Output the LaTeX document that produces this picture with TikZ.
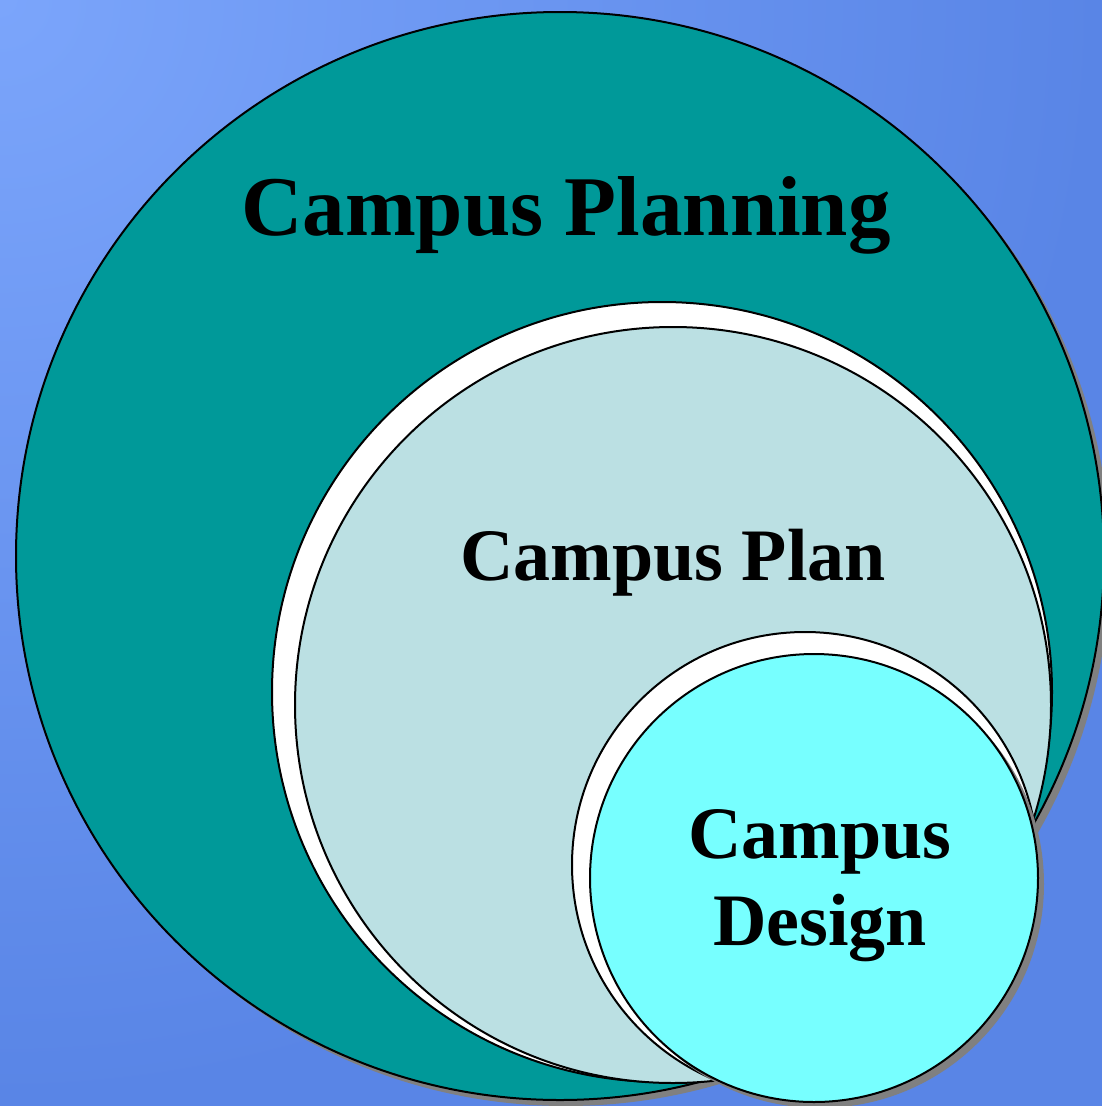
\documentclass[tikz,border=0pt]{standalone}
\usepackage{fontspec}
\setmainfont{Liberation Serif}
\usepackage{xcolor}
\usetikzlibrary{shadows}
\definecolor{bglight}{HTML}{7BA5FB}
\definecolor{bgdark}{HTML}{5985E6}
\definecolor{planningteal}{HTML}{009999}
\definecolor{planblue}{HTML}{BBE0E3}
\definecolor{designcyan}{HTML}{77FFFF}
\definecolor{shadowgray}{HTML}{808080}

\begin{document}
\begin{tikzpicture}[x=1pt, y=-1pt]
                % circles are nodes, sizes in pt (1pt = 1px of the reference)
                \tikzstyle{disc}=[circle, draw=black, line width=2pt, inner sep=0pt, outer sep=0pt]
                \tikzstyle{shadowed}=[drop shadow={shadow xshift=6pt, shadow yshift=-6pt, fill=shadowgray, opacity=1}]
                \tikzstyle{label}=[font=\bfseries, anchor=base, inner sep=0pt]
                \useasboundingbox (0, 0) rectangle (1102, 1106);
                \begin{scope}
                        \clip (0, 0) rectangle (1102, 1106);
                        \fill[bgdark] (0, 0) rectangle (1102, 1106);
                        \shade[inner color=bglight, outer color=bgdark] (0, 0) circle (1100);
                \end{scope}

                \node[disc, shadowed, fill=planningteal, minimum size=1088pt] (planning) at (560, 556) {};

                \node[disc, fill=white, minimum size=780pt] (planback) at (662, 692) {};
                \node[disc, fill=planblue, minimum size=756pt] (plan) at (673, 705) {};

                \node[disc, fill=white, minimum size=466pt] (designback) at (805, 865) {};
                \node[disc, shadowed, fill=designcyan, minimum size=448pt] (design) at (814, 878) {};

                \node[label, font=\fontsize{85}{90}\selectfont\bfseries] (planningtext) at (566, 235) {Campus Planning};
                \node[label, font=\fontsize{74}{80}\selectfont\bfseries] (plantext) at (673, 580) {Campus Plan};
                \node[label, font=\fontsize{74}{80}\selectfont\bfseries] (designtop) at (820, 858) {Campus};
                \node[label, font=\fontsize{74}{80}\selectfont\bfseries] (designbottom) at (820, 945) {Design};
\end{tikzpicture}
\end{document}
